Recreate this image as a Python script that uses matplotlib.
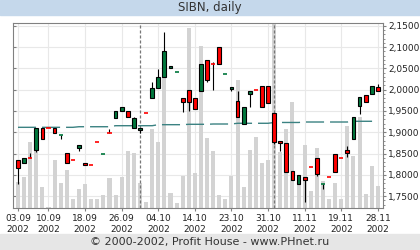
import numpy as np
import matplotlib
matplotlib.use('Agg')
import matplotlib.pyplot as plt
from matplotlib.patches import Rectangle
from matplotlib.ticker import FuncFormatter, MultipleLocator

# Datos: SIBN diario, 03.09.2002 - 28.11.2002 (60 sesiones)
op = [1.8347, 1.8269, 1.8394, 1.8571, 1.9093, 1.9107, 1.9093, 1.8935, 1.8505, 1.8347,
      1.8618, 1.8269, 1.8222, 1.8764, 1.8481, 1.8975, 1.9328, 1.9500, 1.9500, 1.9093,
      1.9053, 1.9445, 1.9798, 2.0034, 2.0293, 2.0505, 2.0425, 1.9798, 1.9994, 1.9798,
      1.9978, 2.0688, 2.0606, 2.0999, 2.0364, 2.0029, 1.9735, 1.9194, 1.9893, 1.9994,
      2.0088, 2.0088, 1.9446, 1.8794, 1.8747, 1.8088, 1.7775, 1.7947, 1.8182, 1.8387,
      1.7775, 1.7954, 1.8481, 1.8401, 1.8582, 1.8834, 1.9618, 1.9876, 1.9895, 2.0072]
hi = [1.8347, 1.8401, 1.8519, 1.9093, 1.9093, 1.9107, 1.9093, 1.8935, 1.8505, 1.8347,
      1.8695, 1.8269, 1.8222, 1.8764, 1.8481, 1.9065, 1.9500, 1.9587, 1.9500, 1.9366,
      1.9107, 1.9445, 2.0189, 2.0488, 2.1366, 2.0547, 2.0425, 1.9798, 1.9994, 1.9798,
      2.0606, 2.0688, 2.0660, 2.0999, 2.0364, 2.0076, 1.9964, 1.9587, 1.9971, 1.9994,
      2.0088, 2.0088, 1.9446, 1.8794, 1.8747, 1.8088, 1.7994, 1.7947, 1.8182, 1.8387,
      1.7775, 1.7954, 1.8481, 1.8401, 1.8676, 1.9352, 1.9822, 1.9876, 2.0081, 2.0135]
lo = [1.7775, 1.8269, 1.8394, 1.8528, 1.8834, 1.9107, 1.8975, 1.8834, 1.8284, 1.8347,
      1.8566, 1.8218, 1.8222, 1.8764, 1.8481, 1.8975, 1.9328, 1.9500, 1.9366, 1.9093,
      1.8975, 1.9445, 1.9798, 2.0034, 2.0293, 2.0505, 2.0425, 1.9484, 1.9500, 1.9542,
      1.9978, 2.0187, 1.9987, 2.0606, 2.0364, 1.9978, 1.9366, 1.9194, 1.9587, 1.9994,
      1.9587, 1.9681, 1.8735, 1.8566, 1.8072, 1.7865, 1.7775, 1.7366, 1.8182, 1.7975,
      1.7672, 1.7954, 1.8072, 1.8401, 1.8411, 1.8834, 1.9425, 1.9712, 1.9895, 1.9978]
cl = [1.8166, 1.8401, 1.8394, 1.9093, 1.8834, 1.9107, 1.8975, 1.8935, 1.8284, 1.8347,
      1.8695, 1.8218, 1.8222, 1.8764, 1.8481, 1.8975, 1.9500, 1.9587, 1.9366, 1.9328,
      1.9107, 1.9445, 2.0034, 2.0293, 2.0912, 2.0547, 2.0425, 1.9719, 1.9700, 1.9542,
      2.0606, 2.0236, 2.0606, 2.0606, 2.0364, 2.0076, 1.9366, 1.9587, 1.9971, 1.9994,
      1.9587, 1.9681, 1.8778, 1.8740, 1.8072, 1.7865, 1.7994, 1.7872, 1.8182, 1.8018,
      1.7775, 1.7954, 1.8072, 1.8401, 1.8505, 1.9352, 1.9822, 1.9712, 2.0081, 1.9978]
vol = [26, 31, 66, 78, 21, 1, 48, 25, 38, 9, 19, 24, 9, 9, 13, 30, 13, 31, 57, 55,
       25, 6, 79, 66, 138, 15, 5, 32, 180, 35, 162, 70, 57, 13, 9, 32, 128, 21, 58, 71,
       45, 48, 190, 56, 79, 106, 26, 63, 17, 60, 27, 9, 25, 9, 82, 52, 91, 14, 42, 22]
ma = [1.9116]*10 + [1.9130]*6 + [1.9154]*7 + [1.9178]*5 + [1.9187]*4 + [1.9194]*4 + \
     [1.9211]*6 + [1.9230]*5 + [1.9241]*8 + [1.9258]*5
flat_up = [7, 14, 26, 34, 50]   # sesiones sin cuerpo marcadas en verde
month_start = [20, 42]
tick_idx = [0, 5, 11, 17, 23, 29, 35, 41, 47, 53, 59]
tick_lbl = ['03.09', '10.09', '18.09', '26.09', '04.10', '14.10',
            '23.10', '31.10', '11.11', '19.11', '28.11']

plt.rcParams['lines.scale_dashes'] = False
red, grn, teal, gry = '#ff0000', '#00773c', '#3b8282', '#808080'
x = np.arange(len(cl))

fig = plt.figure(figsize=(4.2, 2.5), dpi=100)
fig.patches.append(Rectangle((0, 1 - 15/250), 1, 15/250, transform=fig.transFigure,
                             color='#c5d8eb', zorder=0))
fig.patches.append(Rectangle((0, 0), 1, 16/250, transform=fig.transFigure,
                             color='#e6e6e6', zorder=0))
fig.text(0.5, 1 - 7.5/250, 'SIBN, daily', ha='center', va='center', fontsize=8.5, color='#333333')
fig.text(0.5, 8/250, '\u00a9 2000-2002, Profit House - www.PHnet.ru', ha='center', va='center',
         fontsize=8, color='#333333')

rect = [13/420, 42/250, 370.3/420, 185/250]
bg = fig.add_axes(rect)
axv = fig.add_axes(rect, sharex=bg)
ax = fig.add_axes(rect, sharex=bg, sharey=bg)

ax.set_xlim(-0.82, 59.89)
ax.set_ylim(1.7218, 2.157)
ax.set_yticks(np.arange(1.75, 2.16, 0.05))
ax.yaxis.set_minor_locator(MultipleLocator(0.01))
ax.set_xticks(tick_idx)
ax.set_xticklabels([t + '\n2002' for t in tick_lbl], linespacing=1.3)
ax.yaxis.set_major_formatter(FuncFormatter(lambda v, p: f'{v:.4f}'.replace('.', ',')))

# fondo con rejilla
bg.grid(True, color='#e8e8e8', lw=0.8)
for s in bg.spines.values():
    s.set_visible(False)
bg.tick_params(axis='both', which='both', labelleft=False, labelbottom=False, bottom=False,
               left=False)
bg.tick_params(axis='y', which='major', left=True, direction='in', length=2.5, color=gry)

# volumen
axv.bar(x, vol, width=0.66, color='#d3d3d3', zorder=1)
axv.set_ylim(0, 185)
axv.patch.set_visible(False)
axv.axis('off')

# precios
ax.patch.set_visible(False)
for s in ax.spines.values():
    s.set_color(gry)
    s.set_linewidth(0.8)
ax.tick_params(axis='y', which='both', left=False, right=True, labelleft=False, labelright=True,
               direction='out', color=gry, labelsize=6.5, labelcolor='#222222', pad=1)
ax.tick_params(axis='y', which='major', length=2.5)
ax.tick_params(axis='y', which='minor', length=1.5)
ax.tick_params(axis='x', direction='out', length=2.5, color=gry, labelsize=6.5,
               labelcolor='#222222', pad=1.5)

for m in month_start:
    ax.axvline(m, color='#777777', lw=0.9, dashes=(2.2, 1.4), zorder=1.5)
ax.plot(x, ma, color=teal, lw=1.0, dashes=(13, 4.3), zorder=2)

for i in x:
    if op[i] == cl[i]:
        if hi[i] > cl[i]:
            ax.vlines(i, cl[i], hi[i], color='k', lw=0.8, zorder=3)
        if lo[i] < cl[i]:
            ax.vlines(i, lo[i], cl[i], color='k', lw=0.8, zorder=3)
        ax.hlines(cl[i], i - 0.33, i + 0.33, color=grn if i in flat_up else red, lw=1.2, zorder=4)
    else:
        ax.vlines(i, lo[i], hi[i], color='k', lw=0.8, zorder=3)
        ax.bar(i, abs(cl[i] - op[i]), bottom=min(op[i], cl[i]), width=0.62,
               color=grn if cl[i] > op[i] else red, edgecolor='k', lw=0.8, zorder=4)

fig.savefig('out.png', dpi=100)
